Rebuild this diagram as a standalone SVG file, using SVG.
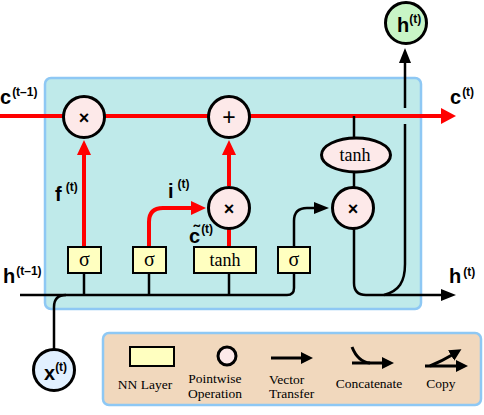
<svg xmlns="http://www.w3.org/2000/svg" width="484" height="415" viewBox="0 0 484 415">
<style>
.frame{fill:#bfeaea;stroke:#8ec8f4;stroke-width:2.5}
.legend{fill:#f1d8bd;stroke:#8ec8f4;stroke-width:2.5}
.red{fill:none;stroke:#ff0000;stroke-width:4}
.blk{fill:none;stroke:#000;stroke-width:2.5}
.lg{fill:none;stroke:#000;stroke-width:3}
.op{fill:#fde9e9;stroke:#000;stroke-width:3}
.layer{fill:#ffffc0;stroke:#000;stroke-width:2}
.sym{font-family:"Liberation Sans",Arial,sans-serif;text-anchor:middle;fill:#000}
.ser{font-family:"Liberation Serif","Times New Roman",serif;fill:#000}
.lbl{font-family:"Liberation Sans",Arial,sans-serif;font-weight:bold;font-size:20px;fill:#000}
.sup{font-size:12px}
.leg{font-family:"Liberation Serif","Times New Roman",serif;font-size:13.5px;fill:#000}
</style>
<defs>
<marker id="ar" markerUnits="userSpaceOnUse" markerWidth="16" markerHeight="18" viewBox="0 -9 16 18" refX="1" refY="0" orient="auto"><path d="M0,-7 L15,0 L0,7 z" fill="#ff0000"/></marker>
<marker id="arb" markerUnits="userSpaceOnUse" markerWidth="16" markerHeight="18" viewBox="0 -9 16 18" refX="1" refY="0" orient="auto"><path d="M0,-8 L15,0 L0,8 z" fill="#ff0000"/></marker>
<marker id="ab" markerUnits="userSpaceOnUse" markerWidth="16" markerHeight="16" viewBox="0 -8 16 16" refX="1" refY="0" orient="auto"><path d="M0,-6 L15,0 L0,6 z" fill="#000"/></marker>
<marker id="al" markerUnits="userSpaceOnUse" markerWidth="14" markerHeight="14" viewBox="0 -7 14 14" refX="1" refY="0" orient="auto"><path d="M0,-6 L12,0 L0,6 z" fill="#000"/></marker>
</defs>

<rect id="cell" class="frame" x="45" y="78" width="376" height="231" rx="6"/>

<g id="connectors">
  <path class="red" d="M0 116 H442" marker-end="url(#arb)"/>
  <path class="red" d="M84 247 V154" marker-end="url(#ar)"/>
  <path class="red" d="M149 247 V222 Q149 208 163 208 H192" marker-end="url(#ar)"/>
  <path class="red" d="M229 247 V229"/>
  <path class="red" d="M229 186 V154" marker-end="url(#ar)"/>
  <path class="blk" d="M20 295 H287 Q294 295 294 288 V273"/>
  <path class="blk" d="M84 295 V273"/>
  <path class="blk" d="M149 295 V273"/>
  <path class="blk" d="M229 295 V273"/>
  <path class="blk" d="M54 349 V307 Q54 295 66 295"/>
  <path class="blk" d="M294 247 V221 Q294 208 307 208 H315" marker-end="url(#ab)"/>
  <path class="blk" d="M354 116 V138"/>
  <path class="blk" d="M354 172 V187"/>
  <path class="blk" d="M354 229 V283 Q354 295 366 295 H442" marker-end="url(#ab)"/>
  <path class="blk" d="M384 295 C399 291 405 282 405 264 V124"/>
  <path class="blk" d="M405 108 V62" marker-end="url(#ab)"/>
</g>

<g id="forget-mult"><circle class="op" cx="84" cy="117" r="20.5"/><text class="sym" x="84" y="123.5" font-size="18" font-weight="bold">×</text></g>
<g id="cell-add"><circle class="op" cx="229" cy="117" r="20.5"/><text class="sym" x="229" y="125" font-size="23">+</text></g>
<g id="input-mult"><circle class="op" cx="229" cy="208" r="20.5"/><text class="sym" x="229" y="214.5" font-size="18" font-weight="bold">×</text></g>
<g id="output-mult"><circle class="op" cx="353" cy="208" r="20.5"/><text class="sym" x="353" y="214.5" font-size="18" font-weight="bold">×</text></g>
<g id="output-tanh"><ellipse class="op" cx="356" cy="155" rx="34.5" ry="17"/><text class="ser" x="355" y="161" font-size="18" text-anchor="middle">tanh</text></g>

<g id="forget-sigma"><rect class="layer" x="68" y="247" width="33" height="26"/><text class="ser" x="84.5" y="266" font-size="20" text-anchor="middle">σ</text></g>
<g id="input-sigma"><rect class="layer" x="133" y="247" width="33" height="26"/><text class="ser" x="149.5" y="266" font-size="20" text-anchor="middle">σ</text></g>
<g id="candidate-tanh"><rect class="layer" x="194" y="247" width="62" height="26"/><text class="ser" x="225" y="266" font-size="18" text-anchor="middle">tanh</text></g>
<g id="output-sigma"><rect class="layer" x="278" y="247" width="32" height="26"/><text class="ser" x="294" y="266" font-size="20" text-anchor="middle">σ</text></g>

<g id="h-out-node"><circle cx="406" cy="23" r="20.5" fill="#c8f5c6" stroke="#000" stroke-width="3"/><text class="lbl" x="397" y="32">h<tspan class="sup" dx="0" dy="-9">(t)</tspan></text></g>
<g id="x-in-node"><circle cx="54" cy="370" r="20.5" fill="#e1f0ff" stroke="#000" stroke-width="3"/><text class="lbl" x="44" y="380">x<tspan class="sup" dx="0" dy="-9">(t)</tspan></text></g>

<g id="labels">
  <text class="lbl" x="0" y="104">c<tspan class="sup" dx="1" dy="-8">(t–1)</tspan></text>
  <text class="lbl" x="450" y="104">c<tspan class="sup" dx="1" dy="-8">(t)</tspan></text>
  <text class="lbl" x="3" y="283">h<tspan class="sup" dx="1" dy="-8">(t–1)</tspan></text>
  <text class="lbl" x="449" y="283">h<tspan class="sup" dx="2" dy="-7">(t)</tspan></text>
  <text class="lbl" x="55" y="201">f<tspan class="sup" dx="4" dy="-10">(t)</tspan></text>
  <text class="lbl" x="168" y="198">i<tspan class="sup" dx="4" dy="-10">(t)</tspan></text>
  <text class="lbl" x="189" y="243">c̃<tspan class="sup" dx="1" dy="-10">(t)</tspan></text>
</g>

<g id="legend">
  <rect class="legend" x="103" y="333" width="378" height="72" rx="6"/>
  <rect class="layer" x="130" y="347" width="44" height="19"/>
  <text class="leg" x="145" y="389" text-anchor="middle">NN Layer</text>
  <circle class="op" cx="227" cy="356" r="9"/>
  <text class="leg" x="215" y="383" text-anchor="middle">Pointwise</text>
  <text class="leg" x="215" y="398" text-anchor="middle">Operation</text>
  <path class="lg" d="M271 358 H302" marker-end="url(#al)"/>
  <text class="leg" x="269" y="384">Vector</text>
  <text class="leg" x="269" y="398">Transfer</text>
  <path class="lg" d="M352 363 H383" marker-end="url(#al)"/>
  <path class="lg" d="M352 347 Q358 362 370 363"/>
  <text class="leg" x="369" y="388" text-anchor="middle">Concatenate</text>
  <path class="lg" d="M425 366 H457" marker-end="url(#al)"/>
  <path class="lg" d="M430 366 Q442 361 452 355" marker-end="url(#al)"/>
  <text class="leg" x="441" y="388" text-anchor="middle">Copy</text>
</g>
</svg>
